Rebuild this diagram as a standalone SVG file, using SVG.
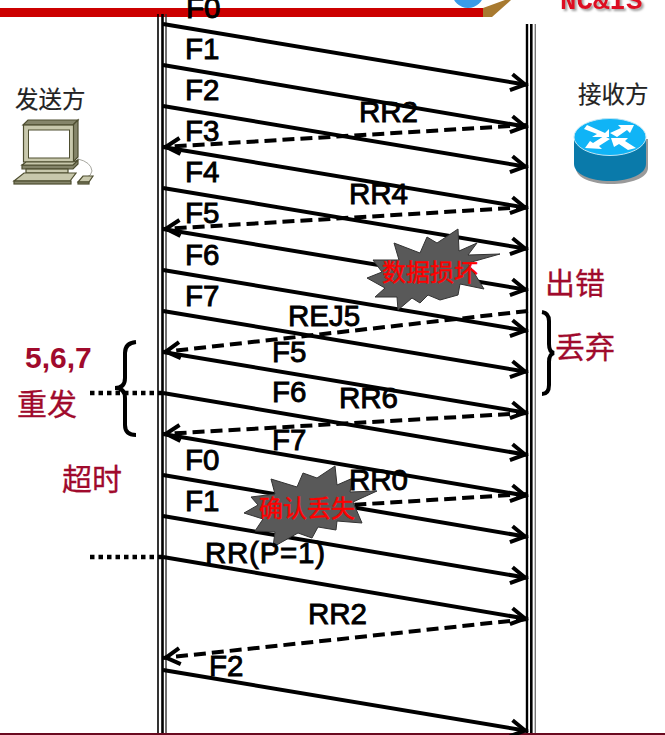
<svg xmlns="http://www.w3.org/2000/svg" width="665" height="735" viewBox="0 0 665 735">
<style>
text{font-family:"Liberation Sans","Noto Sans CJK SC",sans-serif}
.lbl{font-size:29.500px;font-weight:400;fill:#000;stroke:#000;stroke-width:.9}
.red{font-size:30px;fill:#a00a2c;stroke:#a00a2c;stroke-width:.3}
.who{font-size:23.500px;fill:#222;stroke:#222;stroke-width:.2}
.bt{font-size:24px;fill:#f00;stroke:#f00;stroke-width:.4}
.logo{font-family:"Liberation Mono",monospace;font-size:27.500px;font-weight:700;fill:#dd1122}
.s{fill:none;stroke:#000;stroke-width:4;marker-end:url(#ah)}
.d{fill:none;stroke:#000;stroke-width:4;stroke-dasharray:12 6;marker-end:url(#ah)}
.burst{fill:#595959;stroke:#333;stroke-width:1}
.dot{fill:none;stroke:#000;stroke-width:4.500;stroke-dasharray:4.500 4}
.brace{fill:none;stroke:#000;stroke-width:4}
.mon{fill:#c8c8ac;stroke:#4e4e30;stroke-width:1.200}
.mond{fill:#85856a;stroke:#4e4e30;stroke-width:1.200}
.rar{fill:#fff}
</style>
<defs>
<marker id="ah" markerUnits="userSpaceOnUse" markerWidth="28" markerHeight="24" refX="20" refY="12" orient="auto">
<path d="M3 4L17 12L3 20" fill="none" stroke="#000" stroke-width="4"/>
</marker>
<filter id="sh" x="-10%" y="-50%" width="120%" height="200%"><feDropShadow dx="2" dy="2" stdDeviation="1" flood-color="#777" flood-opacity=".7"/></filter>
</defs>
<rect width="665" height="735" fill="#fff"/>
<g id="header">
<circle cx="468" cy="-8" r="16" fill="#3a9be8"/>
<polygon points="483,8 505,0 511,0 492,17 483,17" fill="#a87a30"/>
<rect x="0" y="8" width="483" height="9" fill="#cc0000"/>
<text class="logo" x="560" y="9" filter="url(#sh)">NC&amp;IS</text>
<rect x="0" y="733" width="665" height="2" fill="#6a0a20"/>
</g>
<g id="lifeline-sender" stroke="#000">
<line x1="158" y1="14" x2="158" y2="733" stroke-width="1.600"/>
<line x1="162.500" y1="14" x2="162.500" y2="733" stroke-width="2.600"/>
<line x1="166" y1="14" x2="166" y2="733" stroke-width="1.400" stroke="#333"/>
</g>
<g id="lifeline-receiver" stroke="#000">
<line x1="527" y1="24" x2="527" y2="733" stroke-width="2.400"/>
<line x1="531.300" y1="24" x2="531.300" y2="733" stroke-width="2.600"/>
<line x1="535.300" y1="24" x2="535.300" y2="733" stroke-width="1.400" stroke="#777"/>
</g>
<g id="connectors">
<line class="s" x1="163" y1="24" x2="528" y2="85"/>
<line class="s" x1="163" y1="65" x2="528" y2="127"/>
<line class="s" x1="163" y1="106" x2="528" y2="167"/>
<line class="s" x1="163" y1="147" x2="528" y2="208"/>
<line class="s" x1="163" y1="188" x2="528" y2="249"/>
<line class="s" x1="163" y1="229" x2="528" y2="290"/>
<line class="s" x1="163" y1="270" x2="528" y2="331"/>
<line class="s" x1="163" y1="311" x2="528" y2="372"/>
<line class="s" x1="163" y1="352" x2="528" y2="413"/>
<line class="s" x1="163" y1="393" x2="528" y2="455"/>
<line class="s" x1="163" y1="434" x2="528" y2="496"/>
<line class="s" x1="163" y1="475" x2="528" y2="537"/>
<line class="s" x1="163" y1="516" x2="528" y2="578"/>
<line class="s" x1="163" y1="557" x2="528" y2="619"/>
<line class="s" x1="163" y1="670" x2="528" y2="731"/>
<line class="d" x1="528" y1="125" x2="163" y2="147"/>
<line class="d" x1="528" y1="207" x2="163" y2="229"/>
<line class="d" x1="528" y1="311" x2="163" y2="352"/>
<line class="d" x1="528" y1="413" x2="163" y2="434"/>
<line class="d" x1="528" y1="494" x2="350" y2="505" style="marker-end:none"/>
<line class="d" x1="528" y1="619" x2="163" y2="658"/>
<line class="dot" x1="90" y1="393" x2="163" y2="393"/>
<line class="dot" x1="90" y1="557" x2="163" y2="557"/>
</g>
<g id="burst-data">
<polygon class="burst" points="500,254 468,263 484,289 460,284 458,295 440,300 428,295 420,303 412,298 398,310 397,297 375,297 385,288 367,278 382,272 373,260 399,260 394,243 420,253 427,237 437,243 458,229 459,251 477,243 468,255"/>
<text class="bt" x="382" y="281">数据损坏</text>
</g>
<g id="burst-ack">
<polygon class="burst" points="377,491 353,502 362,523 337,521 336,530 318,527 312,538 298,533 273,547 275,532 255,531 263,519 244,513 258,505 251,497 275,494 271,479 297,487 303,473 317,478 335,466 337,485 353,478 350,492"/>
<text class="bt" x="259" y="517">确认丢失</text>
</g>
<g id="brace-right"><path class="brace" d="M542 312Q549 313 549 321V344Q549 352 554 353Q549 354 549 362V385Q549 394 542 394"/></g>
<g id="brace-left"><path class="brace" d="M136 342Q125 343 125 353V378Q125 388 115 388Q125 388 125 398V425Q125 435 136 435"/></g>
<g id="sender">
<text class="who" x="15" y="108">发送方</text>
<polygon class="mond" points="23,125 28,120 78,120 73,125"/>
<polygon class="mond" points="73,125 78,120 78,157 73,162"/>
<rect class="mon" x="23.500" y="125" width="50" height="37"/>
<rect x="28.500" y="130" width="41" height="28" fill="#fff" stroke="#4e4e30" stroke-width="1"/>
<path d="M78 159Q91 162 92 171Q91 176 87 177" fill="none" stroke="#a8a8a0" stroke-width="1"/>
<polygon class="mond" points="22,165 73,165 78,160 78,164 73,169 22,169"/>
<polygon class="mon" points="22,165 26,162 73,162 78,160 73,165"/>
<rect class="mon" x="26" y="169" width="42" height="4"/>
<polygon class="mon" points="24,173 76,173 70,181 14,181"/>
<rect class="mond" x="14" y="181" width="57" height="3"/>
<polygon class="mon" points="83,176 93,176 89,182 78,182"/>
<rect class="mond" x="78" y="182" width="11" height="2"/>
</g>
<g id="receiver">
<text class="who" x="578" y="103">接收方</text>
<path d="M576 139V168C576 178 592 184 611 184S648 178 648 168V139Z" fill="#9a9a9a"/>
<path d="M574 137V164C574 174 590 181 610 181S646 174 646 164V137Z" fill="#0a7aaa"/>
<ellipse cx="610" cy="137" rx="36" ry="18.500" fill="#10b4f6" stroke="#bfe6f5" stroke-width="1"/>
<polygon class="rar" points="587,125 605,133 609,129 609,137 592,137 597,134 584,129"/>
<polygon class="rar" points="634,125 618,125 621,128 610,133 617,137 627,130 630,133"/>
<polygon class="rar" points="585,148 602,149 599,146 610,139 604,136 593,143 590,141"/>
<polygon class="rar" points="611,138 628,138 625,141 636,148 628,150 619,144 614,147"/>
</g>
<g id="labels">
<text class="lbl" x="186" y="18">F0</text>
<text class="lbl" x="185" y="59">F1</text>
<text class="lbl" x="185" y="100">F2</text>
<text class="lbl" x="185" y="141">F3</text>
<text class="lbl" x="185" y="182">F4</text>
<text class="lbl" x="185" y="223">F5</text>
<text class="lbl" x="185" y="265">F6</text>
<text class="lbl" x="185" y="306">F7</text>
<text class="lbl" x="359" y="122">RR2</text>
<text class="lbl" x="349" y="204">RR4</text>
<text class="lbl" x="288" y="326">REJ5</text>
<text class="lbl" x="272" y="362">F5</text>
<text class="lbl" x="272" y="402">F6</text>
<text class="lbl" x="339" y="408">RR6</text>
<text class="lbl" x="272" y="450">F7</text>
<text class="lbl" x="185" y="470">F0</text>
<text class="lbl" x="349" y="490">RR0</text>
<text class="lbl" x="185" y="511">F1</text>
<text class="lbl" x="205" y="563" textLength="120" lengthAdjust="spacing">RR(P=1)</text>
<text class="lbl" x="308" y="624">RR2</text>
<text class="lbl" x="209" y="676">F2</text>
<text class="red" x="545" y="294">出错</text>
<text class="red" x="555" y="358">丢弃</text>
<text x="25" y="368" font-size="30" font-weight="700" fill="#a00a2c">5,6,7</text>
<text class="red" x="17" y="415">重发</text>
<text class="red" x="62" y="490">超时</text>
</g>
</svg>
